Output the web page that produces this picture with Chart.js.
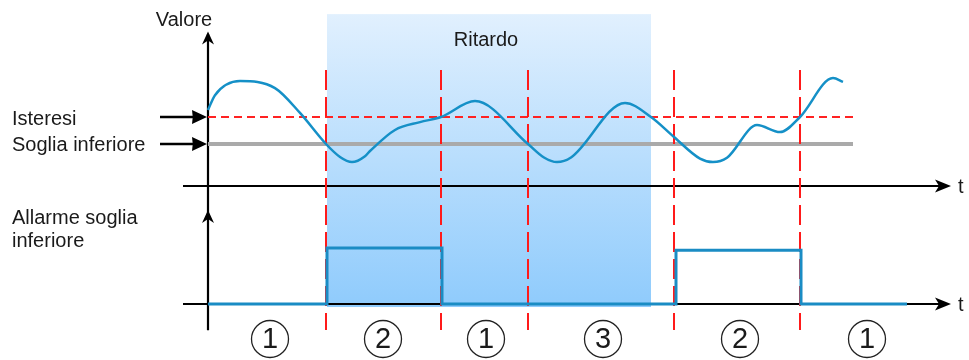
<!DOCTYPE html>
<html>
<head>
<meta charset="utf-8">
<script src="https://cdn.jsdelivr.net/npm/chart.js@4"></script>
<style>
  html, body { margin: 0; padding: 0; background: #fff; }
  #wrap { width: 969px; height: 360px; position: relative; }
</style>
</head>
<body>
<div id="wrap"><canvas id="c"></canvas></div>
<script>
// time in arbitrary units, value of the monitored signal
const curveT = [0, 0.7, 3.2, 6.7, 9.2, 11.8, 13.2, 14.4, 15.7, 16.2, 18.7, 21.2, 23.3, 26.7, 32.0, 33.6, 34.9, 36.3, 41.7, 44.3, 46.6, 49.2, 50.5, 51.9, 54.9, 57.2, 59.2, 62.5, 63.5];
const curveV = [52.6, 58.1, 63.3, 60.7, 51.5, 40, 35.2, 33.3, 35.5, 37.4, 45.2, 48.1, 50, 55.9, 40, 35.0, 33.3, 35.0, 55.2, 50, 42.6, 34.6, 33.3, 34.9, 47.0, 44.4, 50, 64.4, 63.0];

// alarm output (0 = off, 1 = on)
const alarmT = [0, 11.9, 11.9, 23.4, 23.4, 46.8, 46.8, 59.3, 59.3, 69.9];
const alarmV = [0, 0, 1, 1, 0, 0, 0.96, 0.96, 0, 0];

const SOGLIA = 40;
const ISTERESI = 50;
const thresholdT = [0, 64.5];

const boundaries = [11.8, 23.3, 32.0, 46.6, 59.2];
const phaseT = [6.2, 17.5, 27.8, 39.5, 53.2, 65.9];
const phaseLabels = ['1', '2', '1', '3', '2', '1'];

const delayStart = 11.9;
const delayEnd = 44.3;

const FONT = '"Liberation Sans", Arial, Helvetica, sans-serif';
const toPts = (xs, ys) => xs.map((t, i) => ({ x: t, y: ys[i] }));

const verticalPts = [];
boundaries.forEach(b => {
  verticalPts.push({ x: b, y: 67.4 }, { x: b, y: -28.9 }, { x: b, y: null });
});

function arrowHead(ctx, x, y, angle, len, half, notch) {
  ctx.save();
  ctx.translate(x, y);
  ctx.rotate(angle);
  ctx.beginPath();
  ctx.moveTo(0, 0);
  ctx.lineTo(-len, -half);
  ctx.lineTo(-len * notch, 0);
  ctx.lineTo(-len, half);
  ctx.closePath();
  ctx.fill();
  ctx.restore();
}

const diagram = {
  id: 'diagram',
  beforeDatasetsDraw(chart) {
    const { ctx, scales: { x, y, y2 } } = chart;
    ctx.save();
    // delay band
    const l = x.getPixelForValue(delayStart), r = x.getPixelForValue(delayEnd);
    const top = y.getPixelForValue(88.1), bot = y2.getPixelForValue(-0.054);
    const g = ctx.createLinearGradient(0, top, 0, bot);
    g.addColorStop(0, '#e1f0fe');
    g.addColorStop(1, '#8fcbfc');
    ctx.fillStyle = g;
    ctx.fillRect(l, top, r - l, bot - top);

    // axes
    ctx.strokeStyle = '#000';
    ctx.fillStyle = '#000';
    ctx.lineWidth = 2.2;
    const x0 = x.getPixelForValue(0);
    const xl = x.getPixelForValue(-2.5), xr = x.getPixelForValue(74.3);
    const yTop = y.getPixelForValue(24.45);
    const yBot = y2.getPixelForValue(0);
    ctx.beginPath();
    ctx.moveTo(xl, yTop); ctx.lineTo(xr - 5, yTop);
    ctx.moveTo(xl, yBot); ctx.lineTo(xr - 5, yBot);
    ctx.moveTo(x0, y.getPixelForValue(80.7)); ctx.lineTo(x0, y2.getPixelForValue(-0.47));
    ctx.stroke();
    arrowHead(ctx, xr, yTop, 0, 16, 6.5, 0.75);
    arrowHead(ctx, xr, yBot, 0, 16, 6.5, 0.75);
    arrowHead(ctx, x0, y.getPixelForValue(81.7), -Math.PI / 2, 13, 6, 0.7);
    arrowHead(ctx, x0, y2.getPixelForValue(1.68), -Math.PI / 2, 13, 6, 0.7);
    ctx.restore();
  },
  afterDatasetsDraw(chart) {
    const { ctx, scales: { x, y, y2 } } = chart;
    ctx.save();
    ctx.strokeStyle = '#000';
    ctx.lineWidth = 2.6;
    const x0 = x.getPixelForValue(0);

    // arrows pointing at thresholds
    [ISTERESI, SOGLIA].forEach(v => {
      const py = y.getPixelForValue(v);
      ctx.beginPath();
      ctx.moveTo(160, py); ctx.lineTo(x0 - 8, py);
      ctx.stroke();
      ctx.fillStyle = '#000';
      arrowHead(ctx, x0 - 1, py, 0, 15, 7, 0.95);
    });

    ctx.fillStyle = '#1a1a1a';
    ctx.font = '20px ' + FONT;
    ctx.textBaseline = 'alphabetic';
    ctx.textAlign = 'left';
    ctx.fillText('Isteresi', 12, 125);
    ctx.fillText('Soglia inferiore', 12, 151);
    ctx.fillText('Allarme soglia', 12, 224);
    ctx.fillText('inferiore', 12, 247);
    ctx.textAlign = 'center';
    ctx.fillText('Valore', 184, 26);
    ctx.fillText('Ritardo', x.getPixelForValue((delayStart + delayEnd) / 2 - 0.3), 46);
    ctx.textAlign = 'left';
    ctx.fillText('t', 958, y.getPixelForValue(24.45) + 7);
    ctx.fillText('t', 958, y2.getPixelForValue(0) + 7);

    // phase markers
    ctx.lineWidth = 1.3;
    ctx.strokeStyle = '#222';
    ctx.font = '29px ' + FONT;
    ctx.textAlign = 'center';
    ctx.textBaseline = 'middle';
    phaseT.forEach((t, i) => {
      const cx = x.getPixelForValue(t), cy = 339;
      ctx.beginPath();
      ctx.arc(cx, cy, 18.5, 0, Math.PI * 2);
      ctx.stroke();
      ctx.fillText(phaseLabels[i], cx, cy + 1);
    });
    ctx.restore();
  }
};

new Chart(document.getElementById('c'), {
  type: 'line',
  data: {
    datasets: [
      {
        data: toPts(curveT, curveV),
        borderColor: '#1590c7',
        borderWidth: 2.5,
        pointRadius: 0,
        cubicInterpolationMode: 'monotone',
        yAxisID: 'y'
      },
      {
        data: toPts(alarmT, alarmV),
        borderColor: '#1a8cc4',
        borderWidth: 3,
        pointRadius: 0,
        tension: 0,
        borderJoinStyle: 'miter',
        yAxisID: 'y2'
      },
      {
        data: verticalPts,
        borderColor: '#ff1a1a',
        borderWidth: 2,
        borderDash: [20, 7],
        pointRadius: 0,
        spanGaps: false,
        yAxisID: 'y'
      },
      {
        data: toPts(thresholdT, [ISTERESI, ISTERESI]),
        borderColor: '#ff2222',
        borderWidth: 2,
        borderDash: [8, 5],
        pointRadius: 0,
        yAxisID: 'y'
      },
      {
        data: toPts(thresholdT, [SOGLIA, SOGLIA]),
        borderColor: '#aaaaaa',
        borderWidth: 4,
        pointRadius: 0,
        yAxisID: 'y'
      }
    ]
  },
  options: {
    responsive: true,
    maintainAspectRatio: false,
    animation: false,
    layout: { padding: 0 },
    scales: {
      x: { type: 'linear', min: -20.8, max: 76.1, display: false },
      y: { min: -40, max: 93.333, display: false },
      y2: { min: -1, max: 5.4286, display: false }
    },
    plugins: {
      legend: { display: false },
      tooltip: { enabled: false }
    }
  },
  plugins: [diagram]
});
</script>
</body>
</html>
